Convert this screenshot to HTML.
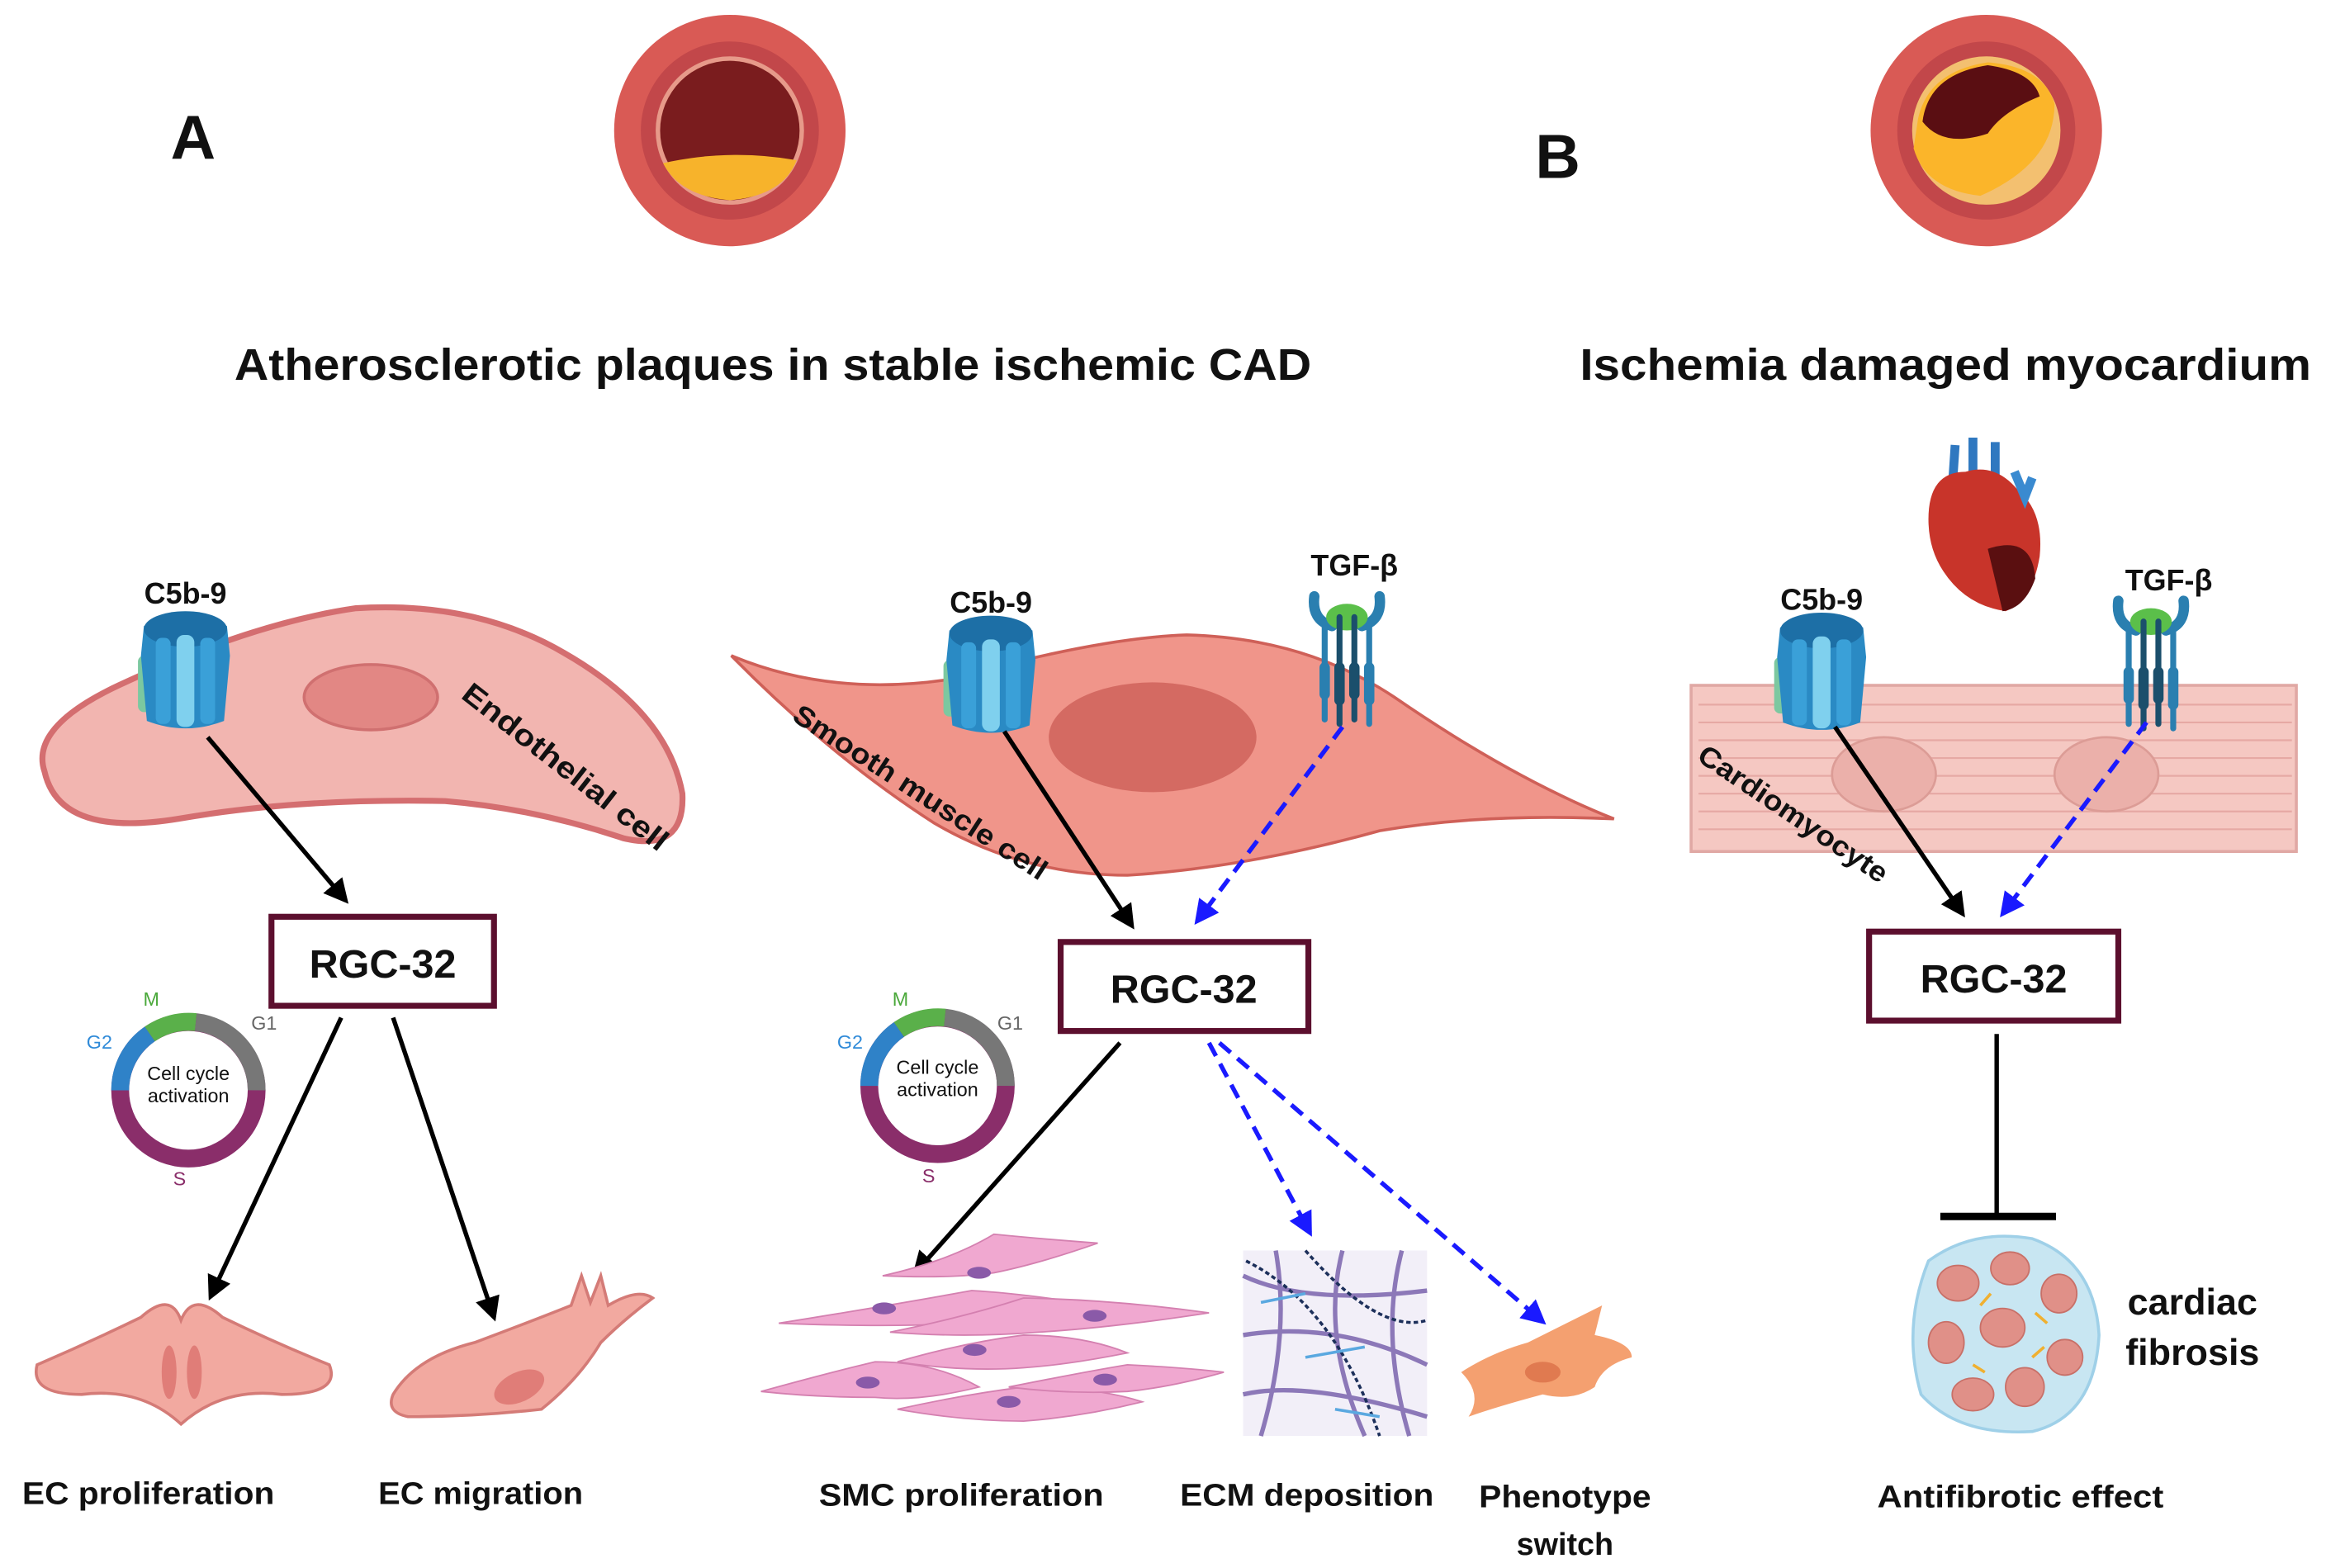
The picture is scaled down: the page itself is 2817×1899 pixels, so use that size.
<!DOCTYPE html>
<html><head><meta charset="utf-8"><style>
html,body{margin:0;padding:0;background:#fff;}
svg{display:block;}
text{font-family:"Liberation Sans",sans-serif;font-weight:bold;fill:#111;}
</style></head><body>
<svg width="2817" height="1899" viewBox="0 0 1568 1057" preserveAspectRatio="none" xmlns="http://www.w3.org/2000/svg">
<defs>
<marker id="ak" markerWidth="6" markerHeight="6" refX="4.5" refY="2.8" orient="auto" markerUnits="strokeWidth"><path d="M0,0 L5.5,2.8 L0,5.6 z" fill="#000"/></marker>
<marker id="ab" markerWidth="6" markerHeight="6" refX="4.5" refY="2.8" orient="auto" markerUnits="strokeWidth"><path d="M0,0 L5.5,2.8 L0,5.6 z" fill="#1a1aff"/></marker>
<g id="chan">
<rect x="-32" y="-10" width="10" height="38" rx="4" fill="#7cc8a0"/>
<path d="M-28,-30 Q0,-42 28,-30 L30,-10 L26,34 Q0,44 -26,34 L-30,-10 Z" fill="#2a8ac4"/>
<ellipse cx="0" cy="-28" rx="28" ry="12" fill="#1d6fa6"/>
<rect x="-20" y="-22" width="10" height="58" rx="4" fill="#3aa0d8"/>
<rect x="-6" y="-24" width="12" height="62" rx="5" fill="#7fd0ee"/>
<rect x="10" y="-22" width="10" height="58" rx="4" fill="#3aa0d8"/>
</g>
<g id="rec">
<path d="M-22,-38 Q-24,-22 -10,-18 M22,-38 Q24,-22 10,-18" stroke="#2a7fb0" stroke-width="7" fill="none" stroke-linecap="round"/>
<ellipse cx="0" cy="-24" rx="14" ry="9" fill="#5bbf4a"/>
<g stroke-width="4" stroke-linecap="round">
<line x1="-15" y1="-20" x2="-15" y2="45" stroke="#2a7fb0"/>
<line x1="-5" y1="-24" x2="-5" y2="48" stroke="#1b4f6c"/>
<line x1="5" y1="-24" x2="5" y2="45" stroke="#1b4f6c"/>
<line x1="15" y1="-20" x2="15" y2="48" stroke="#2a7fb0"/>
</g>
<g stroke-width="7" stroke-linecap="round">
<line x1="-15" y1="10" x2="-15" y2="28" stroke="#2a7fb0"/><line x1="-5" y1="10" x2="-5" y2="32" stroke="#1b4f6c"/>
<line x1="5" y1="10" x2="5" y2="28" stroke="#1b4f6c"/><line x1="15" y1="10" x2="15" y2="32" stroke="#2a7fb0"/>
</g>
</g>
</defs>

<circle cx="492" cy="88" r="78" fill="#d95a55"/>
<circle cx="492" cy="88" r="60" fill="#c2474a"/>
<circle cx="492" cy="88" r="50" fill="#e79a8a"/>
<circle cx="492" cy="88" r="47" fill="#7a1c1e"/>
<path d="M447,110 Q492,100 537,108 Q528,132 492,135 Q458,132 447,110Z" fill="#f7b32b"/>
<circle cx="1339" cy="88" r="78" fill="#d95a55"/>
<circle cx="1339" cy="88" r="60" fill="#c2474a"/>
<circle cx="1339" cy="88" r="50" fill="#f3c070"/>
<path d="M1293,80 Q1300,48 1340,42 Q1378,45 1385,70 Q1385,110 1335,132 Q1298,128 1290,100Z" fill="#fbb52a"/>
<path d="M1296,82 Q1300,50 1340,44 Q1370,48 1375,65 Q1350,75 1340,90 Q1310,100 1296,82Z" fill="#5a0e12"/>
<text x="115" y="107" font-size="42">A</text>
<text x="1035" y="120" font-size="42">B</text>
<text x="521" y="256" font-size="30" text-anchor="middle" textLength="726" lengthAdjust="spacingAndGlyphs">Atherosclerotic plaques in stable ischemic CAD</text>
<text x="1065" y="256" font-size="30" textLength="493" lengthAdjust="spacingAndGlyphs">Ischemia damaged myocardium</text>

<path d="M30,520 Q20,490 80,462 Q170,420 240,410 Q320,405 380,440 Q450,480 460,535 Q462,575 420,565 Q360,545 300,540 Q200,538 120,552 Q40,565 30,520Z" fill="#f2b5b0" stroke="#d46e70" stroke-width="4"/>
<ellipse cx="250" cy="470" rx="45" ry="22" fill="#e28784" stroke="#d07070" stroke-width="2"/>
<text transform="translate(310,470) rotate(38)" font-size="20" textLength="170" lengthAdjust="spacingAndGlyphs">Endothelial cell</text>
<text x="125" y="407" font-size="20" text-anchor="middle">C5b-9</text>
<use href="#chan" transform="translate(125,452)"/>
<line x1="140" y1="497" x2="233" y2="607" stroke="#000" stroke-width="3" marker-end="url(#ak)"/>
<rect x="183" y="618" width="150" height="60" fill="#fff" stroke="#5c0f2e" stroke-width="4"/>
<text x="258" y="659" font-size="27" text-anchor="middle">RGC-32</text>

<g transform="translate(127,735)" fill="none" stroke-width="12">
<circle r="46" stroke="#8a2e6a"/>
<path d="M-46,0 A46,46 0 0 1 -26,-38" stroke="#2f82c8"/>
<path d="M-26,-38 A46,46 0 0 1 5,-46" stroke="#5ab04a"/>
<path d="M5,-46 A46,46 0 0 1 46,0" stroke="#777"/>
</g>
<text x="127" y="728" font-size="13" text-anchor="middle" style="font-weight:normal">Cell cycle</text>
<text x="127" y="743" font-size="13" text-anchor="middle" style="font-weight:normal">activation</text>
<text x="102" y="678" font-size="13" style="font-weight:normal;fill:#4aa83a" text-anchor="middle">M</text>
<text x="67" y="707" font-size="13" style="font-weight:normal;fill:#2f8ad8" text-anchor="middle">G2</text>
<text x="178" y="694" font-size="13" style="font-weight:normal;fill:#666" text-anchor="middle">G1</text>
<text x="121" y="799" font-size="13" style="font-weight:normal;fill:#8a2e6a" text-anchor="middle">S</text>
<line x1="230" y1="686" x2="142" y2="874" stroke="#000" stroke-width="3" marker-end="url(#ak)"/>
<line x1="265" y1="686" x2="333" y2="888" stroke="#000" stroke-width="3" marker-end="url(#ak)"/>
<path d="M25,920 Q60,905 95,888 Q115,870 122,890 Q130,870 150,888 Q185,905 222,920 Q230,940 190,940 Q150,935 122,960 Q95,935 55,940 Q20,940 25,920Z" fill="#f2a9a0" stroke="#d47b77" stroke-width="2"/>
<ellipse cx="114" cy="925" rx="5" ry="18" fill="#e07d78"/><ellipse cx="131" cy="925" rx="5" ry="18" fill="#e07d78"/>
<path d="M265,940 Q280,915 320,905 Q360,890 385,880 L392,860 L398,878 L405,860 L410,880 Q430,868 440,875 Q420,890 405,905 Q390,930 365,950 Q320,955 275,955 Q260,952 265,940Z" fill="#f2a9a0" stroke="#d47b77" stroke-width="2"/>
<ellipse cx="350" cy="935" rx="18" ry="10" fill="#e07d78" transform="rotate(-25 350 935)"/>
<text x="100" y="1014" font-size="21" text-anchor="middle" textLength="170" lengthAdjust="spacingAndGlyphs">EC proliferation</text>
<text x="324" y="1014" font-size="21" text-anchor="middle" textLength="138" lengthAdjust="spacingAndGlyphs">EC migration</text>

<path d="M493,442 Q560,470 640,458 Q740,430 800,428 Q880,430 940,470 Q1020,525 1088,552 Q1000,548 930,560 Q840,585 760,590 Q690,590 630,555 Q560,510 493,442Z" fill="#f0958a" stroke="#cf6058" stroke-width="2"/>
<ellipse cx="777" cy="497" rx="70" ry="37" fill="#d46a62"/>
<text transform="translate(533,485) rotate(33)" font-size="19" textLength="200" lengthAdjust="spacingAndGlyphs">Smooth muscle cell</text>
<text x="668" y="413" font-size="20" text-anchor="middle">C5b-9</text>
<use href="#chan" transform="translate(668,455)"/>
<text x="913" y="388" font-size="20" text-anchor="middle">TGF-β</text>
<use href="#rec" transform="translate(908,440)"/>
<line x1="677" y1="493" x2="763" y2="624" stroke="#000" stroke-width="3" marker-end="url(#ak)"/>
<line x1="905" y1="490" x2="807" y2="621" stroke="#1a1aff" stroke-width="3" stroke-dasharray="10,6" marker-end="url(#ab)"/>
<rect x="715" y="635" width="167" height="60" fill="#fff" stroke="#5c0f2e" stroke-width="4"/>
<text x="798" y="676" font-size="27" text-anchor="middle">RGC-32</text>
<g transform="translate(632,732)" fill="none" stroke-width="12">
<circle r="46" stroke="#8a2e6a"/>
<path d="M-46,0 A46,46 0 0 1 -26,-38" stroke="#2f82c8"/>
<path d="M-26,-38 A46,46 0 0 1 5,-46" stroke="#5ab04a"/>
<path d="M5,-46 A46,46 0 0 1 46,0" stroke="#777"/>
</g>
<text x="632" y="724" font-size="13" text-anchor="middle" style="font-weight:normal">Cell cycle</text>
<text x="632" y="739" font-size="13" text-anchor="middle" style="font-weight:normal">activation</text>
<text x="607" y="678" font-size="13" style="font-weight:normal;fill:#4aa83a" text-anchor="middle">M</text>
<text x="573" y="707" font-size="13" style="font-weight:normal;fill:#2f8ad8" text-anchor="middle">G2</text>
<text x="681" y="694" font-size="13" style="font-weight:normal;fill:#666" text-anchor="middle">G1</text>
<text x="626" y="797" font-size="13" style="font-weight:normal;fill:#8a2e6a" text-anchor="middle">S</text>
<line x1="755" y1="703" x2="617" y2="858" stroke="#000" stroke-width="3" marker-end="url(#ak)"/>
<line x1="815" y1="703" x2="883" y2="831" stroke="#1a1aff" stroke-width="3" stroke-dasharray="10,6" marker-end="url(#ab)"/>
<line x1="822" y1="703" x2="1040" y2="891" stroke="#1a1aff" stroke-width="3" stroke-dasharray="10,6" marker-end="url(#ab)"/>
<g fill="#f0a8d0" stroke="#d480b0" stroke-width="1">
<path d="M525,892 Q600,880 655,870 Q690,872 740,880 Q690,890 650,892 Q600,895 525,892Z"/>
<path d="M595,860 Q640,850 670,832 Q700,835 740,838 Q700,852 670,858 Q640,862 595,860Z"/>
<path d="M600,898 Q650,888 690,875 Q750,876 815,885 Q750,895 700,898 Q650,902 600,898Z"/>
<path d="M513,938 Q560,925 590,918 Q630,918 660,935 Q620,945 590,942 Q550,942 513,938Z"/>
<path d="M605,918 Q650,905 690,900 Q730,900 760,912 Q720,920 690,922 Q650,925 605,918Z"/>
<path d="M605,950 Q650,940 690,935 Q740,935 770,945 Q730,955 690,958 Q650,958 605,950Z"/>
<path d="M680,935 Q730,925 760,920 Q800,922 825,925 Q790,935 760,938 Q720,940 680,935Z"/>
</g>
<g fill="#8a5aa8"><ellipse cx="660" cy="858" rx="8" ry="4"/><ellipse cx="596" cy="882" rx="8" ry="4"/><ellipse cx="738" cy="887" rx="8" ry="4"/><ellipse cx="657" cy="910" rx="8" ry="4"/><ellipse cx="585" cy="932" rx="8" ry="4"/><ellipse cx="680" cy="945" rx="8" ry="4"/><ellipse cx="745" cy="930" rx="8" ry="4"/></g>
<rect x="838" y="843" width="124" height="125" fill="#f2eff8"/>
<g fill="none" stroke="#8c78b8" stroke-width="3">
<path d="M838,860 Q880,880 962,870"/><path d="M838,900 Q900,890 962,920"/><path d="M838,940 Q880,930 962,955"/>
<path d="M860,843 Q870,900 850,968"/><path d="M905,843 Q890,900 920,968"/><path d="M945,843 Q930,900 950,968"/>
</g>
<g fill="none" stroke="#1c2f5a" stroke-width="2" stroke-dasharray="3,2"><path d="M840,850 Q900,880 930,968"/><path d="M880,843 Q930,900 962,890"/></g>
<g fill="none" stroke="#5aa8e0" stroke-width="2"><path d="M850,878 L880,872"/><path d="M880,915 L920,908"/><path d="M900,950 L930,955"/></g>
<path d="M985,925 Q1005,912 1030,905 Q1060,890 1080,880 L1075,900 Q1100,905 1100,915 Q1080,920 1075,935 Q1060,945 1040,940 Q1010,948 990,955 Q1000,940 985,925Z" fill="#f4a070"/>
<ellipse cx="1040" cy="925" rx="12" ry="7" fill="#e07a50"/>
<text x="648" y="1015" font-size="21" text-anchor="middle" textLength="192" lengthAdjust="spacingAndGlyphs">SMC proliferation</text>
<text x="881" y="1015" font-size="21" text-anchor="middle" textLength="171" lengthAdjust="spacingAndGlyphs">ECM deposition</text>
<text x="1055" y="1016" font-size="21" text-anchor="middle" textLength="116" lengthAdjust="spacingAndGlyphs">Phenotype</text>
<text x="1055" y="1048" font-size="21" text-anchor="middle">switch</text>

<path d="M1318,300 L1316,330 M1330,295 L1330,320 M1345,298 L1345,320" stroke="#2f78c0" stroke-width="6"/>
<path d="M1300,350 Q1300,318 1325,318 Q1345,312 1360,330 Q1378,345 1375,375 Q1370,405 1352,412 Q1325,408 1310,385 Q1300,370 1300,350Z" fill="#c8342a"/>
<path d="M1340,370 Q1370,360 1372,390 Q1365,410 1350,412 Z" fill="#5a0f10"/>
<path d="M1358,318 L1365,335 L1370,322" stroke="#3a8ad0" stroke-width="6" fill="none"/>
<rect x="1140" y="462" width="408" height="112" fill="#f5c8c2" stroke="#e0a8a4" stroke-width="2"/>
<g stroke="#e6a9a4" stroke-width="1.2">
<line x1="1145" y1="475" x2="1545" y2="475"/><line x1="1145" y1="487" x2="1545" y2="487"/><line x1="1145" y1="499" x2="1545" y2="499"/><line x1="1145" y1="511" x2="1545" y2="511"/><line x1="1145" y1="523" x2="1545" y2="523"/><line x1="1145" y1="535" x2="1545" y2="535"/><line x1="1145" y1="547" x2="1545" y2="547"/><line x1="1145" y1="559" x2="1545" y2="559"/>
</g>
<ellipse cx="1270" cy="522" rx="35" ry="25" fill="#ebb0aa" stroke="#dc9c96" stroke-width="1.5"/>
<ellipse cx="1420" cy="522" rx="35" ry="25" fill="#ebb0aa" stroke="#dc9c96" stroke-width="1.5"/>
<text transform="translate(1143,512) rotate(34)" font-size="19" textLength="150" lengthAdjust="spacingAndGlyphs">Cardiomyocyte</text>
<text x="1228" y="411" font-size="20" text-anchor="middle">C5b-9</text>
<use href="#chan" transform="translate(1228,453)"/>
<text x="1462" y="398" font-size="20" text-anchor="middle">TGF-β</text>
<use href="#rec" transform="translate(1450,443)"/>
<line x1="1237" y1="490" x2="1323" y2="616" stroke="#000" stroke-width="3" marker-end="url(#ak)"/>
<line x1="1447" y1="487" x2="1350" y2="616" stroke="#1a1aff" stroke-width="3" stroke-dasharray="10,6" marker-end="url(#ab)"/>
<rect x="1260" y="628" width="168" height="60" fill="#fff" stroke="#5c0f2e" stroke-width="4"/>
<text x="1344" y="669" font-size="27" text-anchor="middle">RGC-32</text>
<line x1="1346" y1="697" x2="1346" y2="820" stroke="#000" stroke-width="3"/>
<line x1="1308" y1="820" x2="1386" y2="820" stroke="#000" stroke-width="5"/>
<path d="M1300,850 Q1330,828 1370,835 Q1412,850 1415,900 Q1412,955 1370,965 Q1320,968 1295,940 Q1282,895 1300,850Z" fill="#c8e6f2" stroke="#9fd0e8" stroke-width="2"/>
<g fill="#e09088" stroke="#c87068">
<ellipse cx="1320" cy="865" rx="14" ry="12"/><ellipse cx="1355" cy="855" rx="13" ry="11"/><ellipse cx="1388" cy="872" rx="12" ry="13"/>
<ellipse cx="1312" cy="905" rx="12" ry="14"/><ellipse cx="1350" cy="895" rx="15" ry="13"/><ellipse cx="1392" cy="915" rx="12" ry="12"/>
<ellipse cx="1330" cy="940" rx="14" ry="11"/><ellipse cx="1365" cy="935" rx="13" ry="13"/>
</g>
<g stroke="#f0b030" stroke-width="2"><line x1="1335" y1="880" x2="1342" y2="872"/><line x1="1372" y1="885" x2="1380" y2="892"/><line x1="1330" y1="920" x2="1338" y2="925"/><line x1="1370" y1="915" x2="1378" y2="908"/></g>
<text x="1478" y="886" font-size="25" text-anchor="middle">cardiac</text>
<text x="1478" y="920" font-size="25" text-anchor="middle">fibrosis</text>
<text x="1362" y="1016" font-size="21" text-anchor="middle" textLength="193" lengthAdjust="spacingAndGlyphs">Antifibrotic effect</text>
</svg>
</body></html>
